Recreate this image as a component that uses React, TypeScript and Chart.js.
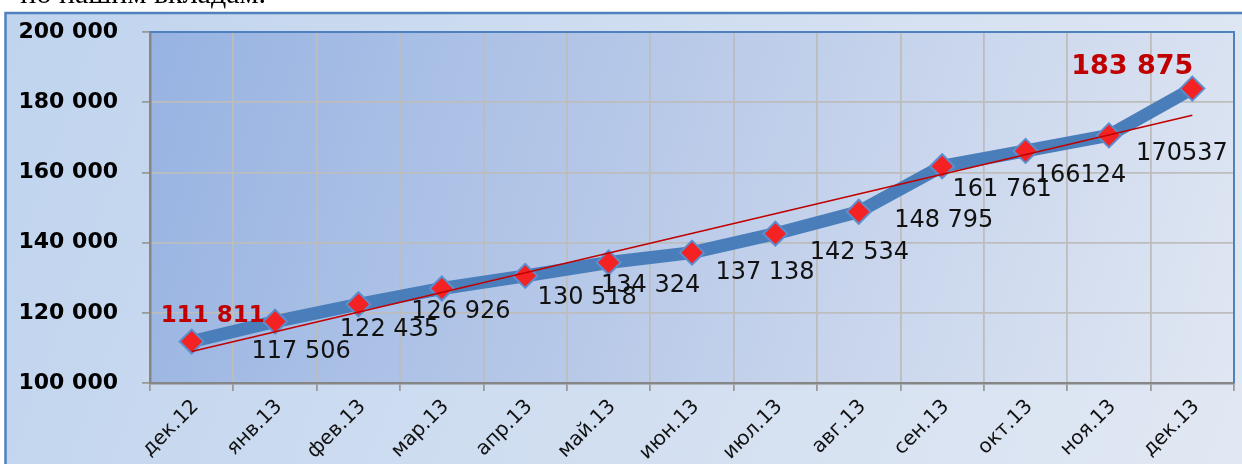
import React, { useEffect, useRef } from 'react';
import { Chart, registerables } from 'chart.js';

Chart.register(...registerables);

const categories = ['дек.12', 'янв.13', 'фев.13', 'мар.13', 'апр.13', 'май.13', 'июн.13', 'июл.13', 'авг.13', 'сен.13', 'окт.13', 'ноя.13', 'дек.13'];
const balances = [111811, 117506, 122435, 126926, 130518, 134324, 137138, 142534, 148795, 161761, 166124, 170537, 183875];
const valueLabels = ['111 811', '117 506', '122 435', '126 926', '130 518', '134 324', '137 138', '142 534', '148 795', '161 761', '166124', '170537', '183 875'];
const trendStart = 109000;
const trendEnd = 176300;
const yMin = 100000;
const yMax = 200000;
const yStep = 20000;
const headingText = 'по нашим вкладам.';

// label placement offsets relative to each point (style, not data)
const labelDx = [21, 26, 31, 19, 62, 42, 73, 84, 85, 60, 55, 73, -60];
const labelDy = [-26, 30, 26, 23, 22, 23, 20, 19, 9, 24, 25, 18, -22];

const last = categories.length - 1;
const trendData = categories.map((_, i) => (i === 0 ? trendStart : i === last ? trendEnd : null));

const fmt = (v: number) => `${Math.floor(v / 1000)} ${String(v % 1000).padStart(3, '0')}`;

const bgPlugin = {
  id: 'bgPlugin',
  beforeDraw(chart: any) {
    const { ctx, chartArea: a, width, height } = chart;
    ctx.save();
    const g = ctx.createLinearGradient(0, 12, width, height);
    g.addColorStop(0, '#c0d4ee');
    g.addColorStop(1, '#e1e8f3');
    ctx.fillStyle = g;
    ctx.fillRect(5, 12, width, height);
    ctx.strokeStyle = '#4f81bd';
    ctx.lineWidth = 2.5;
    ctx.strokeRect(5.5, 13, width + 20, height + 20);
    const g2 = ctx.createLinearGradient(a.left, a.top, a.right, a.bottom);
    g2.addColorStop(0, '#97b3e2');
    g2.addColorStop(0.5, '#bccce9');
    g2.addColorStop(1, '#e0e7f3');
    ctx.fillStyle = g2;
    ctx.fillRect(a.left, a.top, a.right - a.left, a.bottom - a.top);
    ctx.restore();
  },
  beforeDatasetsDraw(chart: any) {
    const { ctx, chartArea: a } = chart;
    ctx.save();
    ctx.strokeStyle = '#4f81bd';
    ctx.lineWidth = 2;
    ctx.beginPath();
    ctx.moveTo(a.left, a.top);
    ctx.lineTo(a.right, a.top);
    ctx.lineTo(a.right, a.bottom);
    ctx.stroke();
    ctx.restore();
  },
};

const labelPlugin = {
  id: 'labelPlugin',
  afterDatasetsDraw(chart: any) {
    const meta = chart.getDatasetMeta(0);
    const ctx = chart.ctx;
    ctx.save();
    ctx.textAlign = 'center';
    ctx.textBaseline = 'middle';
    meta.data.forEach((pt: any, i: number) => {
      const edge = i === 0 || i === last;
      if (i === 0) ctx.font = 'bold 23px "DejaVu Sans"';
      else if (i === last) ctx.font = 'bold 27px "DejaVu Sans"';
      else ctx.font = '24px "DejaVu Sans"';
      ctx.fillStyle = edge ? '#c00000' : '#111111';
      ctx.fillText(valueLabels[i], pt.x + labelDx[i], pt.y + labelDy[i]);
    });
    ctx.restore();
  },
};

export default function App() {
  const ref = useRef<HTMLCanvasElement | null>(null);

  useEffect(() => {
    if (!ref.current) return;
    const chart = new Chart(ref.current, {
      type: 'line',
      data: {
        labels: categories,
        datasets: [
          {
            label: 'balances',
            data: balances,
            borderColor: '#4a7ebb',
            borderWidth: 13,
            pointStyle: 'rectRot',
            pointRadius: 12,
            pointBackgroundColor: '#f42222',
            pointBorderColor: '#5b8dcf',
            pointBorderWidth: 2,
            tension: 0,
            order: 2,
          },
          {
            label: 'trend',
            data: trendData,
            borderColor: '#c00000',
            borderWidth: 1.6,
            pointRadius: 0,
            spanGaps: true,
            order: 1,
          },
        ],
      },
      options: {
        animation: false,
        responsive: false,
        layout: { autoPadding: false, padding: { left: 0, top: 32, right: 8, bottom: 0 } },
        plugins: { legend: { display: false }, tooltip: { enabled: false } },
        scales: {
          x: {
            offset: true,
            grid: { offset: true, color: '#bdbdbd', lineWidth: 1.8, tickLength: 8, tickColor: '#9a9a9a' },
            border: { color: '#868686', width: 2.5 },
            ticks: {
              autoSkip: false,
              maxRotation: 45,
              minRotation: 45,
              padding: 4,
              labelOffset: 4,
              color: '#111111',
              font: { family: '"DejaVu Sans"', size: 20 },
            },
            afterFit: (scale: any) => {
              scale.height = 81;
              scale.paddingLeft = 0;
              scale.paddingRight = 0;
            },
          },
          y: {
            min: yMin,
            max: yMax,
            grid: { color: '#bdbdbd', lineWidth: 1.8, tickLength: 8, tickColor: '#9a9a9a' },
            border: { color: '#868686', width: 2.5 },
            ticks: {
              stepSize: yStep,
              padding: 24,
              color: '#000000',
              font: { family: '"DejaVu Sans"', size: 22, weight: 'bold' },
              callback: (v: any) => fmt(Number(v)),
            },
            afterFit: (scale: any) => {
              scale.width = 150;
              scale.paddingTop = 0;
              scale.paddingBottom = 0;
            },
          },
        },
      },
      plugins: [bgPlugin, labelPlugin],
    });
    return () => chart.destroy();
  }, []);

  return (
    <div style={{ position: 'fixed', left: 0, top: 0, width: 1242, height: 464, overflow: 'hidden', background: '#ffffff' }}>
      <canvas ref={ref} width={1242} height={464} style={{ position: 'absolute', left: 0, top: 0 }} />
      <div
        style={{
          position: 'absolute',
          left: 0,
          top: -21,
          width: 266,
          textAlign: 'right',
          whiteSpace: 'nowrap',
          fontFamily: '"Liberation Serif", serif',
          fontSize: 30,
          lineHeight: '28px',
          color: '#000',
        }}
      >
        {headingText}
      </div>
    </div>
  );
}
